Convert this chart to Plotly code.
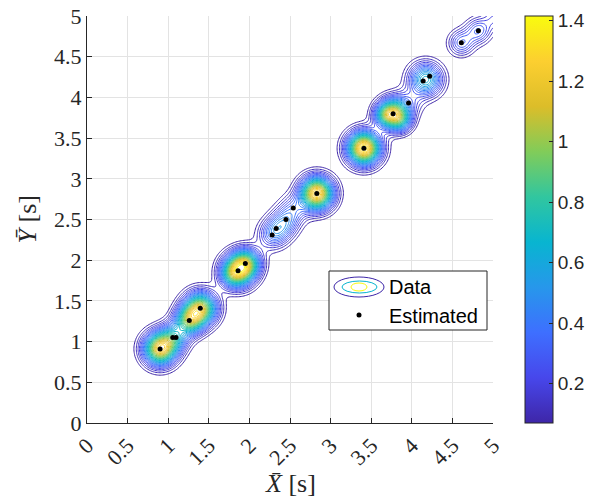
import numpy as np
import plotly.graph_objects as go

# ---------------- data ----------------
# density components (centres, peak heights, spreads)
comp_x   = [0.90, 1.07, 1.26, 1.40, 1.77, 1.86, 1.97, 2.28, 2.38, 2.46, 2.55, 2.83, 3.41, 3.66, 3.77, 3.88, 3.96, 4.17, 4.61, 4.82, 5.03]
comp_y   = [0.91, 1.05, 1.26, 1.41, 1.80, 1.87, 1.97, 2.31, 2.40, 2.50, 2.64, 2.82, 3.375, 3.78, 3.80, 3.70, 3.93, 4.22, 4.67, 4.82, 4.98]
comp_amp = [1.20, 0.50, 0.80, 1.05, 0.20, 1.05, 0.65, 0.30, 0.26, 0.24, 0.22, 1.32, 1.38, 0.30, 1.05, 0.30, 0.18, 0.68, 0.33, 0.33, 0.20]
comp_sig = [0.135, 0.12, 0.12, 0.135, 0.09, 0.135, 0.12, 0.12, 0.12, 0.12, 0.12, 0.135, 0.135, 0.09, 0.125, 0.09, 0.12, 0.135, 0.105, 0.105, 0.10]

# estimated points
est_x = [0.90, 1.056, 1.096, 1.26, 1.395, 1.86, 1.95, 2.28, 2.33, 2.45, 2.54, 2.83, 3.41, 3.77, 3.96, 4.14, 4.22, 4.61, 4.82]
est_y = [0.91, 1.05, 1.05, 1.26, 1.41, 1.87, 1.96, 2.31, 2.39, 2.50, 2.64, 2.82, 3.375, 3.80, 3.93, 4.20, 4.26, 4.67, 4.82]

tick_vals = [0, 0.5, 1, 1.5, 2, 2.5, 3, 3.5, 4, 4.5, 5]
tick_text = ["0", "0.5", "1", "1.5", "2", "2.5", "3", "3.5", "4", "4.5", "5"]
cb_vals = [0.2, 0.4, 0.6, 0.8, 1.0, 1.2, 1.4]
cb_text = ["0.2", "0.4", "0.6", "0.8", "1", "1.2", "1.4"]
z_lo, z_hi = 0.07, 1.416
n_levels = 30

parula = [
    [0.2422, 0.1504, 0.6603], [0.2803, 0.2782, 0.9221], [0.2440, 0.4358, 0.9988],
    [0.1540, 0.5902, 0.9218], [0.0297, 0.7082, 0.8163], [0.1938, 0.7758, 0.6251],
    [0.5044, 0.7993, 0.3480], [0.8634, 0.7406, 0.1596], [0.9892, 0.8136, 0.1885],
    [0.9763, 0.9831, 0.0538]]
cscale = [[i / (len(parula) - 1), "rgb(%d,%d,%d)" % tuple(int(round(c * 255)) for c in col)]
          for i, col in enumerate(parula)]

# ---------------- density grid ----------------
g = np.linspace(0, 5, 301)
GX, GY = np.meshgrid(g, g)
Z = np.zeros_like(GX)
for cx, cy, a, s in zip(comp_x, comp_y, comp_amp, comp_sig):
    Z += a * np.exp(-((GX - cx) ** 2 + (GY - cy) ** 2) / (2 * s * s))

# ---------------- layout geometry ----------------
W_FIG, H_FIG = 597, 499
L, T, PW, PH = 87, 16, 406, 407


def px2x(px):
    return (px - L) / PW


def py2y(py):
    return (T + PH - py) / PH


fig = go.Figure()
fig.add_trace(go.Contour(
    x=g, y=g, z=Z,
    colorscale=cscale, zmin=z_lo, zmax=z_hi,
    contours=dict(coloring="lines", start=z_lo, end=z_hi, size=(z_hi - z_lo) / n_levels),
    line=dict(width=1, smoothing=1),
    showscale=False, hoverinfo="skip", showlegend=False))

fig.add_trace(go.Scatter(
    x=est_x, y=est_y, mode="markers",
    marker=dict(color="black", size=5), showlegend=False, hoverinfo="skip"))

# colourbar carrier
fig.add_trace(go.Scatter(
    x=[None, None], y=[None, None], mode="markers", showlegend=False, hoverinfo="skip",
    marker=dict(color=[z_lo, z_hi], colorscale=cscale, cmin=z_lo, cmax=z_hi, showscale=True,
                colorbar=dict(
                    thickness=28, thicknessmode="pixels", len=1, lenmode="fraction",
                    x=px2x(525), xanchor="left", xpad=0, y=0.5, yanchor="middle", ypad=0,
                    outlinecolor="#262626", outlinewidth=1,
                    tickmode="array", tickvals=cb_vals, ticktext=cb_text,
                    ticks="inside", ticklen=4, tickcolor="#262626",
                    tickfont=dict(family="Liberation Sans", size=19, color="#262626")))))

axis_common = dict(
    range=[0, 5], tickmode="array", tickvals=tick_vals, ticktext=tick_text,
    showgrid=True, gridcolor="#e3e3e3", gridwidth=1, zeroline=False,
    showline=True, linecolor="#262626", linewidth=1, mirror=False,
    ticks="inside", ticklen=5, tickcolor="#262626",
    tickfont=dict(family="Liberation Serif", size=22, color="#262626"))

fig.update_layout(
    width=W_FIG, height=H_FIG,
    margin=dict(l=L, r=W_FIG - L - PW, t=T, b=H_FIG - T - PH, autoexpand=False),
    paper_bgcolor="white", plot_bgcolor="white",
    xaxis=dict(**axis_common, tickangle=-45),
    yaxis=dict(**axis_common),
    showlegend=False)

# axis titles
fig.add_annotation(text="<i>X̄</i> [s]", xref="paper", yref="paper", x=0.5, y=0,
                   xanchor="center", yanchor="middle", yshift=-60, showarrow=False,
                   font=dict(family="Liberation Serif", size=26, color="#262626"))
fig.add_annotation(text="<i>Ȳ</i> [s]", xref="paper", yref="paper", x=0, y=0.5,
                   xanchor="center", yanchor="middle", xshift=-(L - 27), textangle=-90,
                   showarrow=False,
                   font=dict(family="Liberation Serif", size=26, color="#262626"))

# custom legend
shapes = [dict(type="rect", xref="paper", yref="paper",
               x0=px2x(329), x1=px2x(487), y0=py2y(330), y1=py2y(271),
               line=dict(color="#262626", width=1), fillcolor="white", layer="above")]
for (a, b, c, d, col) in [(334, 384, 277, 297, parula[0]), (342, 377, 281, 293, parula[4]),
                          (351, 367, 283, 291, parula[9])]:
    shapes.append(dict(type="circle", xref="paper", yref="paper",
                       x0=px2x(a), x1=px2x(b), y0=py2y(d), y1=py2y(c),
                       line=dict(color="rgb(%d,%d,%d)" % tuple(int(v * 255) for v in col), width=1),
                       layer="above"))
shapes.append(dict(type="circle", xref="paper", yref="paper",
                   x0=px2x(356.5), x1=px2x(361.5), y0=py2y(317.5), y1=py2y(312.5),
                   line=dict(color="black", width=0), fillcolor="black", layer="above"))
fig.update_layout(shapes=shapes)
fig.add_annotation(text="Data", xref="paper", yref="paper", x=px2x(387), y=py2y(287),
                   xanchor="left", yanchor="middle", showarrow=False,
                   font=dict(family="Liberation Sans", size=20, color="black"))
fig.add_annotation(text="Estimated", xref="paper", yref="paper", x=px2x(387), y=py2y(316),
                   xanchor="left", yanchor="middle", showarrow=False,
                   font=dict(family="Liberation Sans", size=20, color="black"))

fig.write_html("out.html")
